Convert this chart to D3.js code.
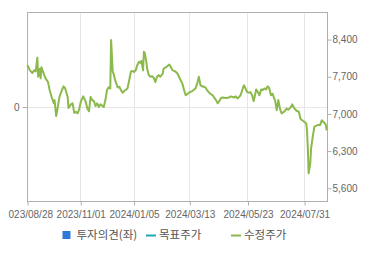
<!DOCTYPE html>
<html>
<head>
<meta charset="utf-8">
<script src="https://cdn.jsdelivr.net/npm/d3@7"></script>
<style>
    body { margin: 0; background: #fff; }
    svg { display: block; }
</style>
</head>
<body>
<div id="chart"></div>
<script>
// 수정주가 (adjusted close)
const dates = [
    '2023-08-28','2023-08-31','2023-09-03','2023-09-05','2023-09-07','2023-09-09','2023-09-10','2023-09-12','2023-09-13','2023-09-14',
    '2023-09-16','2023-09-19','2023-09-22','2023-09-24','2023-09-27','2023-09-29','2023-09-30','2023-10-02','2023-10-04','2023-10-06',
    '2023-10-09','2023-10-11','2023-10-13','2023-10-16','2023-10-17','2023-10-20','2023-10-22','2023-10-24','2023-10-26','2023-10-28',
    '2023-10-30','2023-11-01','2023-11-04','2023-11-07','2023-11-09','2023-11-11','2023-11-13','2023-11-15','2023-11-17','2023-11-19',
    '2023-11-21','2023-11-23','2023-11-25','2023-11-29','2023-12-01','2023-12-03','2023-12-05','2023-12-07','2023-12-08','2023-12-10',
    '2023-12-11','2023-12-13','2023-12-16','2023-12-18','2023-12-20','2023-12-22','2023-12-24','2023-12-28','2023-12-30','2024-01-01',
    '2024-01-03','2024-01-05','2024-01-07','2024-01-09','2024-01-11','2024-01-13','2024-01-14','2024-01-16','2024-01-17','2024-01-18',
    '2024-01-20','2024-01-21','2024-01-23','2024-01-25','2024-01-27','2024-01-29','2024-01-31','2024-02-02','2024-02-04','2024-02-06',
    '2024-02-09','2024-02-10','2024-02-13','2024-02-17','2024-02-19','2024-02-21','2024-02-23','2024-02-25','2024-02-27','2024-03-02',
    '2024-03-04','2024-03-06','2024-03-08','2024-03-12','2024-03-16','2024-03-20','2024-03-22','2024-03-24','2024-03-26','2024-03-28',
    '2024-03-30','2024-04-01','2024-04-03','2024-04-05','2024-04-07','2024-04-10','2024-04-12','2024-04-14','2024-04-16','2024-04-18',
    '2024-04-20','2024-04-22','2024-04-26','2024-04-30','2024-05-02','2024-05-06','2024-05-08','2024-05-10','2024-05-12','2024-05-14',
    '2024-05-16','2024-05-18','2024-05-20','2024-05-22','2024-05-24','2024-05-26','2024-05-28','2024-05-30','2024-06-02','2024-06-04',
    '2024-06-06','2024-06-08','2024-06-10','2024-06-12','2024-06-14','2024-06-16','2024-06-18','2024-06-20','2024-06-22','2024-06-24',
    '2024-06-25','2024-06-27','2024-06-29','2024-07-01','2024-07-03','2024-07-06','2024-07-09','2024-07-11','2024-07-14','2024-07-16',
    '2024-07-18','2024-07-21','2024-07-24','2024-07-26','2024-07-28','2024-07-31','2024-08-02','2024-08-03','2024-08-04','2024-08-05',
    '2024-08-07','2024-08-08','2024-08-10','2024-08-12','2024-08-16','2024-08-19','2024-08-21','2024-08-23','2024-08-25','2024-08-26',
    '2024-08-27'
];
const prices = [
    7920,7820,7770,7820,7800,8060,7700,7850,7670,7880,
    7790,7670,7600,7450,7290,7200,7260,6960,7130,7320,
    7450,7520,7480,7320,7110,7180,7200,7020,7040,7010,
    7080,7230,7330,7230,7100,7050,7320,7260,7240,7150,
    7200,7130,7180,7130,7260,7450,7500,7480,8390,7790,
    7760,7630,7500,7510,7450,7400,7430,7480,7630,7790,
    7810,7790,7820,7920,7980,7960,8000,7820,8170,8150,
    7980,7850,7730,7700,7710,7680,7600,7700,7730,7700,
    7760,7850,7880,7930,7880,7820,7810,7790,7760,7630,
    7570,7450,7350,7400,7430,7480,7570,7700,7540,7520,
    7510,7500,7450,7410,7380,7350,7300,7260,7200,7240,
    7300,7310,7300,7310,7330,7310,7330,7290,7320,7350,
    7450,7540,7480,7410,7400,7410,7350,7240,7460,7410,
    7350,7460,7450,7480,7460,7520,7480,7350,7380,7290,
    7260,7070,7260,7100,7010,7040,7100,7080,7120,7180,
    7120,7060,7040,6910,6880,6850,6820,6690,6350,5880,
    6070,6350,6570,6760,6790,6790,6880,6850,6820,6790,
    6690
];

const xTickDates = ['2023-08-28','2023-11-01','2024-01-05','2024-03-13','2024-05-23','2024-07-31'];
const priceTicks = [5600, 6300, 7000, 7700, 8400];
const opinionTicks = [0];
const legendNames = ['투자의견(좌)', '목표주가', '수정주가'];
const legendColors = ['#2f7ad8', '#1fa9b5', '#8cb94c'];

const parseDate = d3.timeParse('%Y-%m-%d');
const fmtDate = d3.timeFormat('%Y/%m/%d');

function createChart() {
    const margin = {top: 12, right: 43, bottom: 54, left: 27};
    const width = 370 - margin.left - margin.right;
    const height = 255 - margin.top - margin.bottom;

    const svg = d3.select('#chart')
        .append('svg')
        .attr('width', 370)
        .attr('height', 255);

    // the first date label is cut at the left edge in the original
    svg.append('defs').append('clipPath')
        .attr('id', 'xlabel-clip')
        .append('rect')
        .attr('x', 8 - margin.left)
        .attr('y', 0)
        .attr('width', 370)
        .attr('height', margin.bottom);

    const g = svg.append('g')
        .attr('transform', `translate(${margin.left + 0.5},${margin.top + 0.5})`);

    const series = dates.map((d, i) => ({date: parseDate(d), price: prices[i]}));

    const x = d3.scaleTime()
        .domain([parseDate('2023-08-28'), parseDate('2024-08-28')])
        .range([0, width]);

    const yRight = d3.scaleLinear()
        .domain([5350, 8910])
        .range([height, 0]);

    const yLeft = d3.scaleLinear()
        .domain([-1, 1])
        .range([height, 0]);

    const tickFont = '"Liberation Sans", Arial, sans-serif';

    // grid
    g.append('g')
        .selectAll('line')
        .data(xTickDates.slice(1).map(parseDate))
        .enter()
        .append('line')
        .attr('x1', d => Math.round(x(d)))
        .attr('x2', d => Math.round(x(d)))
        .attr('y1', 0)
        .attr('y2', height)
        .attr('stroke', '#e6e6e6');

    g.append('g')
        .selectAll('line')
        .data(opinionTicks)
        .enter()
        .append('line')
        .attr('x1', 0)
        .attr('x2', width)
        .attr('y1', d => Math.round(yLeft(d)))
        .attr('y2', d => Math.round(yLeft(d)))
        .attr('stroke', '#e6e6e6');

    // frame
    g.append('rect')
        .attr('x', 0)
        .attr('y', 0)
        .attr('width', width)
        .attr('height', height)
        .attr('fill', 'none')
        .attr('stroke', '#b0b0b0');

    // axes
    const xAxis = g.append('g')
        .attr('transform', `translate(0,${height})`)
        .attr('clip-path', 'url(#xlabel-clip)')
        .call(d3.axisBottom(x)
            .tickValues(xTickDates.map(parseDate))
            .tickFormat(fmtDate)
            .tickSize(4)
            .tickPadding(5));

    const rAxis = g.append('g')
        .attr('transform', `translate(${width},0)`)
        .call(d3.axisRight(yRight)
            .tickValues(priceTicks)
            .tickFormat(d3.format(','))
            .tickSize(4)
            .tickPadding(1));

    const lAxis = g.append('g')
        .call(d3.axisLeft(yLeft)
            .tickValues(opinionTicks)
            .tickFormat(d3.format('d'))
            .tickSize(5)
            .tickPadding(3));

    [xAxis, rAxis, lAxis].forEach(a => {
        a.select('.domain').remove();
        a.selectAll('line').attr('stroke', '#b0b0b0');
        a.selectAll('text')
            .attr('fill', '#666')
            .style('font-family', tickFont)
            .style('font-size', '10px');
    });

    // 수정주가 line
    const line = d3.line()
        .x(d => x(d.date))
        .y(d => yRight(d.price));

    g.append('path')
        .datum(series)
        .attr('fill', 'none')
        .attr('stroke', legendColors[2])
        .attr('stroke-width', 2)
        .attr('stroke-linejoin', 'round')
        .attr('d', line);

    // legend
    const legendX = [62, 146, 231];
    const legend = svg.append('g')
        .attr('transform', 'translate(0,235)');

    legendNames.forEach((name, i) => {
        const row = legend.append('g')
            .attr('transform', `translate(${legendX[i]},0)`);

        if (i === 0) {
            row.append('rect')
                .attr('x', 0.5)
                .attr('y', -4)
                .attr('width', 8)
                .attr('height', 8)
                .attr('fill', legendColors[i]);
        } else {
            row.append('line')
                .attr('x1', 0)
                .attr('x2', 10)
                .attr('y1', 0.5)
                .attr('y2', 0.5)
                .attr('stroke', legendColors[i])
                .attr('stroke-width', 2);
        }

        row.append('text')
            .attr('x', i === 0 ? 14.5 : 13)
            .attr('y', 0)
            .attr('dy', '0.36em')
            .attr('fill', '#555')
            .style('font-family', '"Noto Sans CJK KR", "Noto Sans", sans-serif')
            .style('font-size', '11.5px')
            .text(name);
    });
}

createChart();
</script>
</body>
</html>
